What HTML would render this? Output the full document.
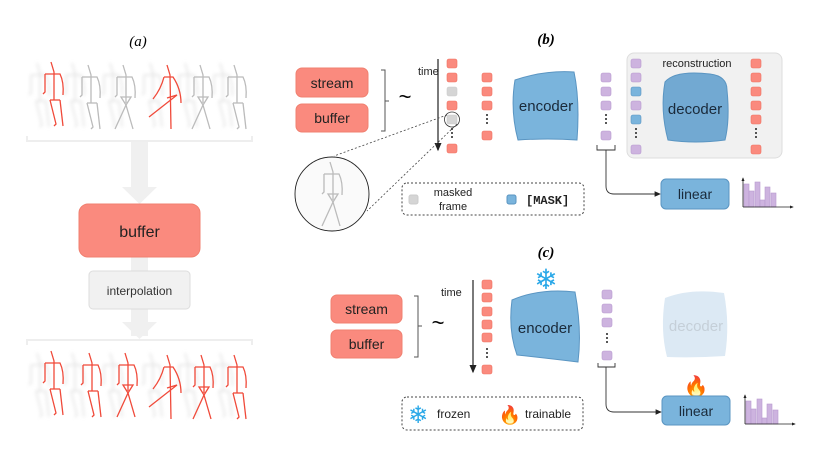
<!DOCTYPE html>
<html><head><meta charset="utf-8"><style>
html,body{margin:0;padding:0;background:#fff;}
svg{display:block;font-family:"Liberation Sans","DejaVu Sans",sans-serif;}
</style></head><body>
<svg width="830" height="467" viewBox="0 0 830 467" xmlns="http://www.w3.org/2000/svg">
<defs>
<symbol id="fa" overflow="visible"><g fill="none" stroke="currentColor" stroke-width="1.3">
<path d="M0,0 L3,10 L3,38"/><path d="M-6,12 L9,12 Q13,20 12,33"/><path d="M-6,12 L-6,30 L-8,32"/><path d="M-1,38 L9,38"/><path d="M-1,38 L5,62 L3,64"/><path d="M9,38 L12,64"/></g></symbol>
<symbol id="fb" overflow="visible"><g fill="none" stroke="currentColor" stroke-width="1.3">
<path d="M0,0 L3,10 L3,38"/><path d="M-6,12 L9,12 Q13,20 12,33"/><path d="M-6,12 L-6,30 L-8,32"/><path d="M-2,32 L8,32 L3,40 Z"/><path d="M3,40 L-8,64"/><path d="M3,40 L10,64"/></g></symbol>
<symbol id="fc" overflow="visible"><g fill="none" stroke="currentColor" stroke-width="1.3">
<path d="M0,0 L3,10 L4,64"/><path d="M-3,12 L6,12 Q14,24 14,38"/><path d="M-3,12 Q-6,24 -14,34"/><path d="M0,33 L10,30 L-18,52"/></g></symbol>
<filter id="bl"><feGaussianBlur stdDeviation="1.8"/></filter>
<marker id="ar" markerWidth="8" markerHeight="8" refX="6" refY="4" orient="auto"><path d="M0,1 L7,4 L0,7 Z" fill="#222"/></marker>
<marker id="sa" markerWidth="6" markerHeight="6" refX="4" refY="3" orient="auto"><path d="M0,1 L5,3 L0,5 Z" fill="#222"/></marker>
</defs>

<!-- (a) -->
<text x="138" y="46" font-family="Liberation Serif" font-style="italic" font-size="15" text-anchor="middle">(a)</text>
<g color="#d8d8d8" filter="url(#bl)" opacity="0.85">
<use href="#fa" x="37" y="63"/><use href="#fa" x="72" y="63"/><use href="#fa" x="110" y="63"/><use href="#fa" x="150" y="63"/><use href="#fa" x="185" y="63"/><use href="#fa" x="220" y="63"/>
<use href="#fa" x="37" y="353"/><use href="#fa" x="72" y="353"/><use href="#fa" x="110" y="353"/><use href="#fa" x="150" y="353"/><use href="#fa" x="185" y="353"/><use href="#fa" x="220" y="353"/>
</g>
<use href="#fa" x="51" y="62" color="#f04a3a"/>
<use href="#fa" x="88" y="65" color="#bbb"/>
<use href="#fb" x="123" y="65" color="#bbb"/>
<use href="#fc" x="167" y="65" color="#f04a3a"/>
<use href="#fb" x="200" y="65" color="#bbb"/>
<use href="#fa" x="234" y="65" color="#bbb"/>
<use href="#fa" x="51" y="351" color="#f04a3a"/>
<use href="#fa" x="89" y="353" color="#f04a3a"/>
<use href="#fb" x="125" y="353" color="#f04a3a"/>
<use href="#fc" x="167" y="355" color="#f04a3a"/>
<use href="#fb" x="201" y="355" color="#f04a3a"/>
<use href="#fa" x="234" y="355" color="#f04a3a"/>
<path d="M27,136 L27,141 L252,141 L252,136" fill="none" stroke="#eee" stroke-width="2"/>
<rect x="131" y="142" width="17" height="48" fill="#f0f0f0"/>
<path d="M122,187 L157,187 L139.5,204 Z" fill="#f0f0f0"/>
<rect x="131" y="256" width="17" height="80" fill="#f0f0f0"/>
<path d="M122,322 L157,322 L139.5,339 Z" fill="#f0f0f0"/>
<path d="M27,345 L27,340 L252,340 L252,345" fill="none" stroke="#eee" stroke-width="2"/>
<rect x="79" y="204" width="121" height="53" rx="9" fill="#fa8a7e" stroke="#f08070"/>
<text x="139.5" y="237" font-size="16" text-anchor="middle" fill="#222">buffer</text>
<rect x="89" y="271" width="101" height="38" rx="4" fill="#f1f1f1" stroke="#ddd"/>
<text x="139.5" y="295" font-size="12" text-anchor="middle" fill="#333">interpolation</text>

<!-- (b) -->
<text x="546" y="44" font-family="Liberation Serif" font-style="italic" font-weight="bold" font-size="15" text-anchor="middle">(b)</text>
<rect x="296" y="68" width="72" height="29" rx="6" fill="#fa8a7e" stroke="#f08070"/>
<text x="332" y="88" font-size="14" text-anchor="middle" fill="#222">stream</text>
<rect x="296" y="104" width="72" height="28" rx="6" fill="#fa8a7e" stroke="#f08070"/>
<text x="332" y="123" font-size="14" text-anchor="middle" fill="#222">buffer</text>
<path d="M381,70 L385,70 L385,131 L381,131 M385,101 L389,101" fill="none" stroke="#555"/>
<text x="405" y="104" font-size="22" text-anchor="middle">~</text>
<text x="418" y="75" font-size="11" fill="#222">time</text>
<line x1="438" y1="59" x2="438" y2="150" stroke="#222" stroke-width="1.2" marker-end="url(#ar)"/>
<g stroke-width="0.6">
<rect x="447" y="59" width="10" height="9" rx="2" fill="#fa8a7e" stroke="#f07060"/>
<rect x="447" y="73" width="10" height="9" rx="2" fill="#fa8a7e" stroke="#f07060"/>
<rect x="447" y="87" width="10" height="9" rx="2" fill="#d5d5d5" stroke="#ccc"/>
<rect x="447" y="101" width="10" height="9" rx="2" fill="#fa8a7e" stroke="#f07060"/>
<rect x="447" y="115" width="10" height="9" rx="2" fill="#d5d5d5" stroke="#ccc"/>
<rect x="447" y="144" width="10" height="9" rx="2" fill="#fa8a7e" stroke="#f07060"/>
<rect x="482" y="73" width="10" height="9" rx="2" fill="#fa8a7e" stroke="#f07060"/>
<rect x="482" y="87" width="10" height="9" rx="2" fill="#fa8a7e" stroke="#f07060"/>
<rect x="482" y="101" width="10" height="9" rx="2" fill="#fa8a7e" stroke="#f07060"/>
<rect x="482" y="131" width="10" height="9" rx="2" fill="#fa8a7e" stroke="#f07060"/>
<rect x="601" y="73" width="10" height="9" rx="2" fill="#cdb3df" stroke="#b89ad0"/>
<rect x="601" y="87" width="10" height="9" rx="2" fill="#cdb3df" stroke="#b89ad0"/>
<rect x="601" y="101" width="10" height="9" rx="2" fill="#cdb3df" stroke="#b89ad0"/>
<rect x="601" y="131" width="10" height="9" rx="2" fill="#cdb3df" stroke="#b89ad0"/>
</g>
<g fill="#222"><circle cx="452" cy="129" r="1"/><circle cx="452" cy="133" r="1"/><circle cx="452" cy="137" r="1"/>
<circle cx="487" cy="115" r="1"/><circle cx="487" cy="119" r="1"/><circle cx="487" cy="123" r="1"/>
<circle cx="606" cy="115" r="1"/><circle cx="606" cy="119" r="1"/><circle cx="606" cy="123" r="1"/></g>
<circle cx="452" cy="119.5" r="7.5" fill="none" stroke="#333" stroke-width="0.8"/>
<path d="M447,115 L334,156 M457,124 L367,211" stroke="#444" stroke-width="0.8" stroke-dasharray="2,2" fill="none"/>
<circle cx="332" cy="194" r="37" fill="#fafafa" stroke="#222" stroke-width="0.9"/>
<use href="#fb" x="330" y="162" color="#bbb"/>
<path d="M515,80 Q545,70 574,72 Q580,100 577,140 Q548,138 518,140 Q510,110 515,80 Z" fill="#7ab4dc" stroke="#5a95c2"/>
<text x="546" y="111" font-size="15" text-anchor="middle" fill="#1a2a3a">encoder</text>
<path d="M597,145 L597,150 L615,150 L615,145 M606,150 L606,186 Q606,194 614,194 L660,194" fill="none" stroke="#333" stroke-width="0.9" marker-end="url(#ar)"/>
<rect x="627" y="53" width="155" height="105" rx="7" fill="#f1f1f1" stroke="#ddd"/>
<text x="697" y="67" font-size="11" text-anchor="middle" fill="#222">reconstruction</text>
<g stroke-width="0.6">
<rect x="631" y="59" width="10" height="9" rx="2" fill="#cdb3df" stroke="#b89ad0"/>
<rect x="631" y="73" width="10" height="9" rx="2" fill="#cdb3df" stroke="#b89ad0"/>
<rect x="631" y="87" width="10" height="9" rx="2" fill="#7ab4dc" stroke="#5a95c2"/>
<rect x="631" y="101" width="10" height="9" rx="2" fill="#cdb3df" stroke="#b89ad0"/>
<rect x="631" y="115" width="10" height="9" rx="2" fill="#7ab4dc" stroke="#5a95c2"/>
<rect x="631" y="145" width="10" height="9" rx="2" fill="#cdb3df" stroke="#b89ad0"/>
<rect x="751" y="59" width="10" height="9" rx="2" fill="#fa8a7e" stroke="#f07060"/>
<rect x="751" y="73" width="10" height="9" rx="2" fill="#fa8a7e" stroke="#f07060"/>
<rect x="751" y="87" width="10" height="9" rx="2" fill="#fa8a7e" stroke="#f07060"/>
<rect x="751" y="101" width="10" height="9" rx="2" fill="#fa8a7e" stroke="#f07060"/>
<rect x="751" y="115" width="10" height="9" rx="2" fill="#fa8a7e" stroke="#f07060"/>
<rect x="751" y="145" width="10" height="9" rx="2" fill="#fa8a7e" stroke="#f07060"/>
</g>
<g fill="#222"><circle cx="636" cy="129" r="1"/><circle cx="636" cy="133" r="1"/><circle cx="636" cy="137" r="1"/>
<circle cx="756" cy="129" r="1"/><circle cx="756" cy="133" r="1"/><circle cx="756" cy="137" r="1"/></g>
<path d="M665,82 Q675,70 710,74 Q727,76 727,90 Q730,120 725,140 Q695,144 668,140 Q660,110 665,82 Z" fill="#72a9d2" stroke="#5a95c2"/>
<text x="695" y="114" font-size="15" text-anchor="middle" fill="#1a2a3a">decoder</text>
<rect x="661" y="179" width="68" height="30" rx="5" fill="#7ab4dc" stroke="#5a95c2"/>
<text x="695" y="199" font-size="14" text-anchor="middle" fill="#1a2a3a">linear</text>
<g fill="#cdb3df" stroke="#b89ad0" stroke-width="0.6">
<rect x="744" y="184" width="5" height="23"/><rect x="749" y="191" width="5" height="16"/><rect x="755" y="182" width="5" height="25"/><rect x="760" y="200" width="5" height="7"/><rect x="765" y="187" width="5" height="20"/><rect x="771" y="193" width="5" height="14"/></g>
<path d="M743,207 L743,178" fill="none" stroke="#222" stroke-width="0.8" marker-end="url(#sa)"/>
<path d="M743,207 L793,207" fill="none" stroke="#222" stroke-width="0.8" marker-end="url(#sa)"/>
<rect x="402" y="183" width="182" height="32" rx="5" fill="#fff" stroke="#444" stroke-dasharray="2,2"/>
<rect x="409" y="195" width="9" height="9" rx="2" fill="#d5d5d5" stroke="#ccc"/>
<text x="453" y="196" font-size="11" text-anchor="middle" fill="#222">masked</text>
<text x="453" y="210" font-size="11" text-anchor="middle" fill="#222">frame</text>
<rect x="507" y="195" width="9" height="9" rx="2" fill="#7ab4dc" stroke="#5a95c2"/>
<text x="526" y="204" font-family="Liberation Mono" font-weight="bold" font-size="12" fill="#222">[MASK]</text>

<!-- (c) -->
<text x="546" y="257" font-family="Liberation Serif" font-style="italic" font-weight="bold" font-size="15" text-anchor="middle">(c)</text>
<text x="546" y="289" font-size="28" text-anchor="middle" fill="#2aa8e8">❄</text>
<rect x="331" y="295" width="71" height="28" rx="6" fill="#fa8a7e" stroke="#f08070"/>
<text x="366.5" y="314" font-size="14" text-anchor="middle" fill="#222">stream</text>
<rect x="331" y="330" width="71" height="28" rx="6" fill="#fa8a7e" stroke="#f08070"/>
<text x="366.5" y="349" font-size="14" text-anchor="middle" fill="#222">buffer</text>
<path d="M414,296 L418,296 L418,357 L414,357 M418,326 L422,326" fill="none" stroke="#555"/>
<text x="438" y="330" font-size="22" text-anchor="middle">~</text>
<text x="441" y="296" font-size="11" fill="#222">time</text>
<line x1="473" y1="280" x2="473" y2="372" stroke="#222" stroke-width="1.2" marker-end="url(#ar)"/>
<g stroke-width="0.6" fill="#fa8a7e" stroke="#f07060">
<rect x="482" y="280" width="10" height="9" rx="2"/><rect x="482" y="293" width="10" height="9" rx="2"/><rect x="482" y="307" width="10" height="9" rx="2"/><rect x="482" y="320" width="10" height="9" rx="2"/><rect x="482" y="333" width="10" height="9" rx="2"/><rect x="482" y="365" width="10" height="9" rx="2"/></g>
<g stroke-width="0.6" fill="#cdb3df" stroke="#b89ad0">
<rect x="602" y="290" width="10" height="9" rx="2"/><rect x="602" y="304" width="10" height="9" rx="2"/><rect x="602" y="318" width="10" height="9" rx="2"/><rect x="602" y="351" width="10" height="9" rx="2"/></g>
<g fill="#222"><circle cx="487" cy="349" r="1"/><circle cx="487" cy="353" r="1"/><circle cx="487" cy="357" r="1"/>
<circle cx="607" cy="334" r="1"/><circle cx="607" cy="338" r="1"/><circle cx="607" cy="342" r="1"/></g>
<path d="M512,300 Q540,288 575,292 Q582,330 578,362 Q545,358 517,355 Q508,330 512,300 Z" fill="#7ab4dc" stroke="#5a95c2"/>
<text x="545" y="333" font-size="15" text-anchor="middle" fill="#1a2a3a">encoder</text>
<path d="M665,298 Q690,288 724,293 Q730,325 725,356 Q695,358 667,357 Q660,330 665,298 Z" fill="#dce9f4"/>
<text x="696" y="331" font-size="15" text-anchor="middle" fill="#c5cfd8">decoder</text>
<path d="M598,363 L598,367 L615,367 L615,363 M606,367 L606,404 Q606,412 614,412 L661,412" fill="none" stroke="#333" stroke-width="0.9" marker-end="url(#ar)"/>
<text x="696" y="393" font-size="20" text-anchor="middle" fill="#f5a030">🔥</text>
<rect x="662" y="396" width="68" height="29" rx="5" fill="#7ab4dc" stroke="#5a95c2"/>
<text x="696" y="416" font-size="14" text-anchor="middle" fill="#1a2a3a">linear</text>
<g fill="#cdb3df" stroke="#b89ad0" stroke-width="0.6">
<rect x="746" y="401" width="5" height="23"/><rect x="751" y="409" width="5" height="15"/><rect x="757" y="399" width="5" height="25"/><rect x="762" y="418" width="5" height="6"/><rect x="767" y="404" width="5" height="20"/><rect x="773" y="410" width="5" height="14"/></g>
<path d="M745,424 L745,395" fill="none" stroke="#222" stroke-width="0.8" marker-end="url(#sa)"/>
<path d="M745,424 L795,424" fill="none" stroke="#222" stroke-width="0.8" marker-end="url(#sa)"/>
<rect x="402" y="397" width="181" height="33" rx="5" fill="#fff" stroke="#444" stroke-dasharray="2,2"/>
<text x="418" y="423" font-size="24" text-anchor="middle" fill="#2aa8e8">❄</text>
<text x="437" y="418" font-size="12" fill="#222">frozen</text>
<text x="510" y="421" font-size="18" text-anchor="middle" fill="#f5a030">🔥</text>
<text x="525" y="418" font-size="12" fill="#222">trainable</text>
</svg>
</body></html>
